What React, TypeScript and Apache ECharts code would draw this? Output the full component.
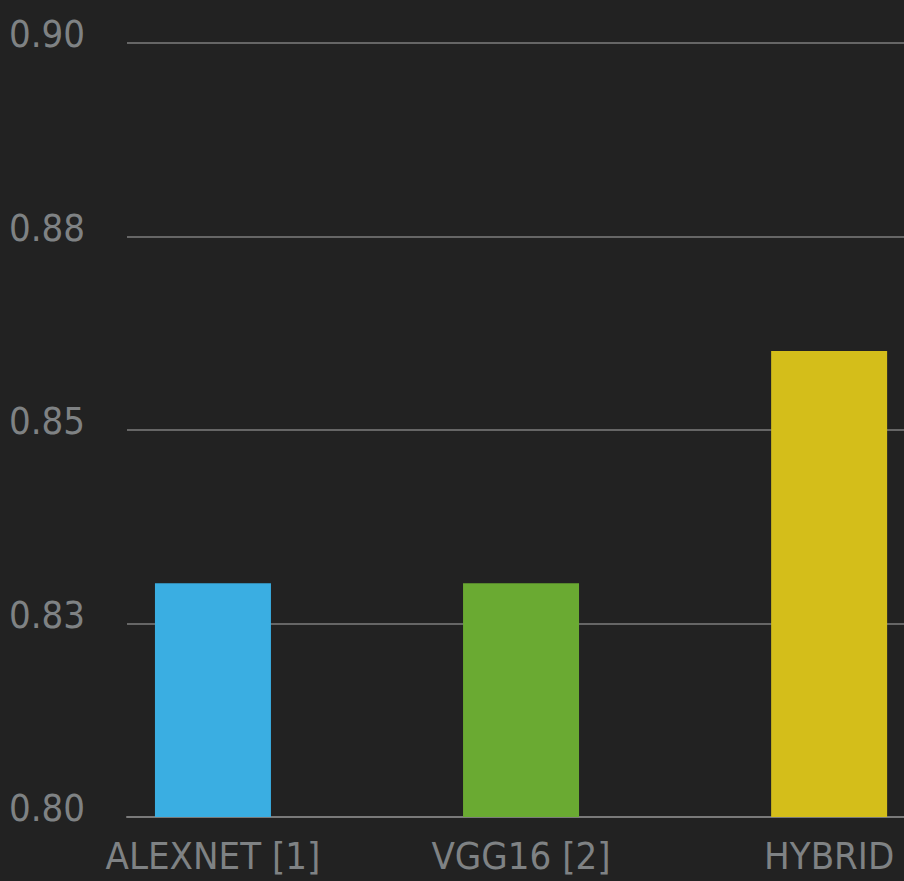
import React, { useEffect, useRef } from "react";
import * as echarts from "echarts";

// Model names along the x axis and their accuracy scores
const categories = ["ALEXNET [1]", "VGG16 [2]", "HYBRID"];
const accuracy = [0.8302, 0.8302, 0.8602];
const barColors = ["#3aaee2", "#6aaa32", "#d4be1a"];

// Accuracy axis: 0.80 – 0.90 in steps of 0.025, shown with two decimals
const yMin = 0.8;
const yMax = 0.9;
const yStep = 0.025;
const yTickLabels = ["0.80", "0.83", "0.85", "0.88", "0.90"];

// Horizontal extent of the plot, in category units (bar centres sit at 0, 1, 2)
const xMin = -0.279;
const xMax = 2.243;

const FONT = "'DejaVu Sans Condensed', 'DejaVu Sans', sans-serif";
const TEXT_COLOR = "#7f8284";
const FONT_SIZE = 38;

export default function App() {
  const ref = useRef<HTMLDivElement>(null);

  useEffect(() => {
    if (!ref.current) return;
    const chart = echarts.init(ref.current, null, { renderer: "svg" });
    chart.setOption({
      animation: false,
      backgroundColor: "#222222",
      grid: {
        left: 127,
        right: 0,
        top: 43,
        bottom: 64,
        containLabel: false,
        outerBoundsMode: "none",
      },
      xAxis: {
        type: "value",
        min: xMin,
        max: xMax,
        splitLine: { show: false },
        axisTick: { show: false },
        axisLine: { show: true, onZero: false, lineStyle: { color: "#7a7a7a", width: 2 } },
        axisLabel: {
          customValues: categories.map((_, i) => i),
          formatter: (v: number) => categories[Math.round(v)] ?? "",
          color: TEXT_COLOR,
          fontFamily: FONT,
          fontSize: FONT_SIZE,
          margin: 20,
        },
      },
      yAxis: {
        type: "value",
        min: yMin,
        max: yMax,
        interval: yStep,
        axisLine: { show: false },
        axisTick: { show: false },
        splitLine: { show: true, lineStyle: { color: "#666666", width: 2 } },
        axisLabel: {
          // tick labels sit slightly above their grid lines
          formatter: (v: number) =>
            `{t|${yTickLabels[Math.round((v - yMin) / yStep)] ?? ""}}`,
          margin: 42,
          rich: {
            t: {
              color: TEXT_COLOR,
              fontFamily: FONT,
              fontSize: FONT_SIZE,
              padding: [0, 0, 18, 0],
            },
          },
        },
      },
      series: [
        {
          type: "bar",
          barWidth: 116,
          data: accuracy.map((v, i) => ({
            value: [i, v],
            itemStyle: { color: barColors[i] },
          })),
        },
      ],
    });
    return () => chart.dispose();
  }, []);

  return (
    <div
      ref={ref}
      style={{ position: "fixed", left: 0, top: 0, width: 904, height: 881 }}
    />
  );
}
